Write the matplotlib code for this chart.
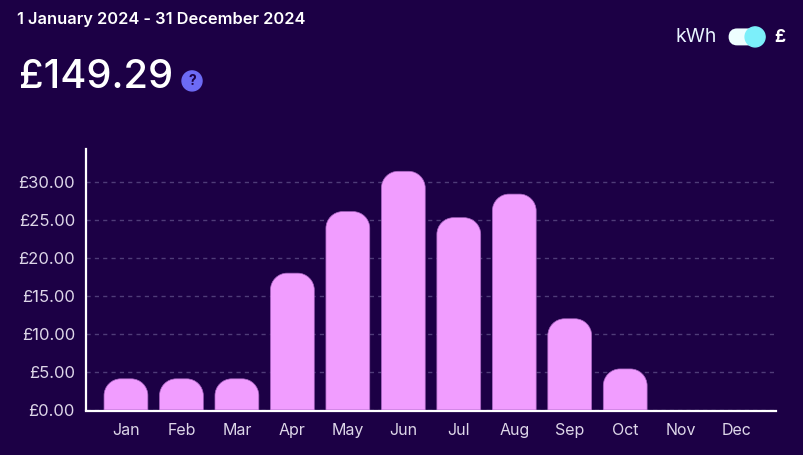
import matplotlib
matplotlib.use("Agg")
import matplotlib.pyplot as plt
from matplotlib.patches import Circle, FancyBboxPatch, PathPatch
from matplotlib.path import Path

months = ["Jan", "Feb", "Mar", "Apr", "May", "Jun", "Jul", "Aug", "Sep", "Oct", "Nov", "Dec"]
costs = [4.1, 4.1, 4.1, 18.0, 26.1, 31.4, 25.3, 28.4, 12.0, 5.4, 0, 0]
y_ticks = [0, 5, 10, 15, 20, 25, 30]
y_labels = ["£0.00", "£5.00", "£10.00", "£15.00", "£20.00", "£25.00", "£30.00"]
date_range = "1 January 2024 - 31 December 2024"
total = "£149.29"

BG = "#1c0045"
BAR = "#f19dff"
EDGE = "#a763c0"
GRID = "#4f3c78"
TICK = "#ddd6e8"

plt.rcParams["font.family"] = ["Inter", "DejaVu Sans"]
W, H = 803, 455
# the extra 0.1 stops the pixel width being rounded down to 802
fig = plt.figure(figsize=((W + 0.1) / 100, (H + 0.1) / 100), dpi=100, facecolor=BG)

# axes box in pixels
left, right, top, bottom = 86, 776, 149, 410
ax = fig.add_axes([left / W, 1 - bottom / H, (right - left) / W, (bottom - top) / H], facecolor=BG)
ax.set_xlim(-0.72, 11.72)
ax.set_ylim(0, (bottom - top) / 7.6)


def rounded_bar(x, h, width=0.79, rx=0.3, ry=2.2):
    # bar with rounded top corners only
    if h <= 0:
        return
    ry = min(ry, h)
    x0, x1 = x - width / 2, x + width / 2
    k = 0.45
    verts = [
        (x0, 0.0), (x0, h - ry),
        (x0, h - ry * k), (x0 + rx * k, h), (x0 + rx, h),
        (x1 - rx, h),
        (x1 - rx * k, h), (x1, h - ry * k), (x1, h - ry),
        (x1, 0.0), (x0, 0.0),
    ]
    codes = [Path.MOVETO, Path.LINETO,
             Path.CURVE4, Path.CURVE4, Path.CURVE4,
             Path.LINETO,
             Path.CURVE4, Path.CURVE4, Path.CURVE4,
             Path.LINETO, Path.CLOSEPOLY]
    ax.add_patch(PathPatch(Path(verts, codes), facecolor=BAR, edgecolor=EDGE, lw=0.5, zorder=3))


for i, c in enumerate(costs):
    rounded_bar(i, c)

ax.set_xticks(range(len(months)), months)
ax.set_yticks(y_ticks, y_labels)
ax.tick_params(length=0, colors=TICK)
ax.tick_params(axis="x", pad=8, labelsize=11.5)
ax.tick_params(axis="y", pad=8, labelsize=12)
ax.grid(axis="y", color=GRID, lw=1, ls=(0, (3, 3)), zorder=1)
ax.set_axisbelow(True)
for s in ["top", "right"]:
    ax.spines[s].set_visible(False)
for s in ["left", "bottom"]:
    ax.spines[s].set_color("white")
    ax.spines[s].set_linewidth(1.6)
ax.spines["bottom"].set_position(("outward", 1))

# header drawn on a pixel-sized overlay
ov = fig.add_axes([0, 0, 1, 1], facecolor="none")
ov.set_xlim(0, W)
ov.set_ylim(H, 0)
ov.axis("off")

ov.text(17, 19.5, date_range, color="white", fontsize=11.8, fontweight="semibold", va="center")
ov.text(19, 77, total, color="white", fontsize=28.7, fontweight="medium", va="center")
ov.add_patch(Circle((192, 81), 10, color="#6d6bf5"))
ov.text(192, 81, "?", color=BG, fontsize=10, fontweight="bold", ha="center", va="center")

ov.text(675, 37, "kWh", color="#e8f4ff", fontsize=14, va="center")
ov.add_patch(FancyBboxPatch((732, 32), 23, 10, boxstyle="round,pad=0,rounding_size=5", mutation_aspect=1,
                            facecolor="#eefeff", edgecolor="#eefeff", lw=5))
ov.add_patch(Circle((755, 37), 10, color="#7ceffa"))
ov.text(780, 37, "£", color="white", fontsize=12.5, fontweight="bold", ha="center", va="center")

fig.savefig("out.png", dpi=100, facecolor=BG)
